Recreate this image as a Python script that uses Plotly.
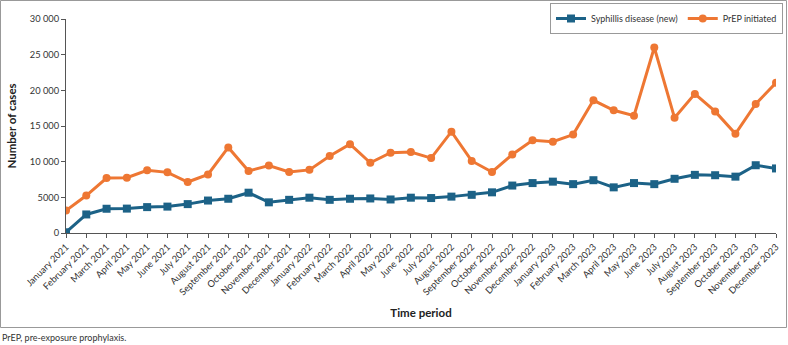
import plotly.graph_objects as go

months = ["January", "February", "March", "April", "May", "June", "July", "August",
          "September", "October", "November", "December"]
periods = [f"{m} {y}" for y in (2021, 2022, 2023) for m in months]

syphilis = [100, 2600, 3400, 3420, 3630, 3700, 4050, 4550, 4800, 5650, 4300, 4650,
            4950, 4650, 4800, 4840, 4700, 4950, 4900, 5100, 5350, 5700, 6650, 7000,
            7200, 6850, 7400, 6400, 7000, 6850, 7600, 8150, 8100, 7900, 9500, 9050]
prep = [3150, 5250, 7700, 7750, 8800, 8500, 7150, 8200, 12000, 8700, 9450, 8550,
        8850, 10800, 12450, 9850, 11250, 11350, 10500, 14200, 10100, 8550, 11000, 13000,
        12800, 13800, 18600, 17200, 16450, 26000, 16150, 19500, 17050, 13900, 18100, 21050]

ytick_vals = [0, 5000, 10000, 15000, 20000, 25000, 30000]
ytick_text = ["0", "5000", "10 000", "15 000", "20 000", "25 000", "30 000"]

BLUE = "#1C6287"
ORANGE = "#EE7733"
FONT = "Lato"

W, H = 788, 345
L, R, T, B = 66, 12, 19, 112
pw, ph = W - L - R, H - T - B

def px_x(p):
    return (p - L) / pw

def px_y(p):
    return (H - B - p) / ph

fig = go.Figure()
fig.add_trace(go.Scatter(
    x=list(range(len(periods))), y=syphilis, name="Syphillis disease (new)",
    mode="lines+markers", line=dict(color=BLUE, width=3),
    marker=dict(symbol="square", size=8, color=BLUE)))
fig.add_trace(go.Scatter(
    x=list(range(len(periods))), y=prep, name="PrEP initiated",
    mode="lines+markers", line=dict(color=ORANGE, width=3),
    marker=dict(symbol="circle", size=8, color=ORANGE)))

fig.update_layout(
    width=W, height=H,
    margin=dict(l=L, r=R, t=T, b=B, pad=0, autoexpand=False),
    paper_bgcolor="white", plot_bgcolor="white",
    font=dict(family=FONT, size=9.5, color="#333333"),
    showlegend=True,
    legend=dict(orientation="h", x=px_x(783), xanchor="right", y=px_y(3), yanchor="top",
                bordercolor="#999999", borderwidth=1, bgcolor="white",
                font=dict(family=FONT, size=9, color="#333333"),
                itemwidth=30, tracegroupgap=0),
    xaxis=dict(
        range=[0, len(periods) - 1], tickmode="array",
        tickvals=list(range(len(periods))), ticktext=periods,
        tickangle=-45, tickfont=dict(family=FONT, size=9.3, color="#333333"),
        showgrid=False, zeroline=False, showline=True, linecolor="#555555", linewidth=1,
        ticks="outside", ticklen=4, tickcolor="#555555",
        title=dict(text="<b>Time period</b>", font=dict(family=FONT, size=11.5, color="#222222"),
                   standoff=12),
    ),
    yaxis=dict(
        range=[0, 30000], tickmode="array", tickvals=ytick_vals, ticktext=ytick_text,
        tickfont=dict(family=FONT, size=9.3, color="#333333"),
        showgrid=False, zeroline=False, showline=True, linecolor="#555555", linewidth=1,
        ticks="outside", ticklen=4, tickcolor="#555555",
        title=dict(text="<b>Number of cases</b>", font=dict(family=FONT, size=11.5, color="#222222"),
                   standoff=10),
    ),
)

fig.add_shape(type="rect", xref="paper", yref="paper",
              x0=px_x(0.5), x1=px_x(786.5), y0=px_y(327.5), y1=px_y(0.5),
              line=dict(color="#999999", width=1), layer="below")

fig.add_annotation(text="PrEP, pre-exposure prophylaxis.", xref="paper", yref="paper",
                   x=px_x(0), y=px_y(337), xanchor="left", yanchor="middle",
                   showarrow=False, font=dict(family=FONT, size=9, color="#333333"))

fig.write_html("out.html")
